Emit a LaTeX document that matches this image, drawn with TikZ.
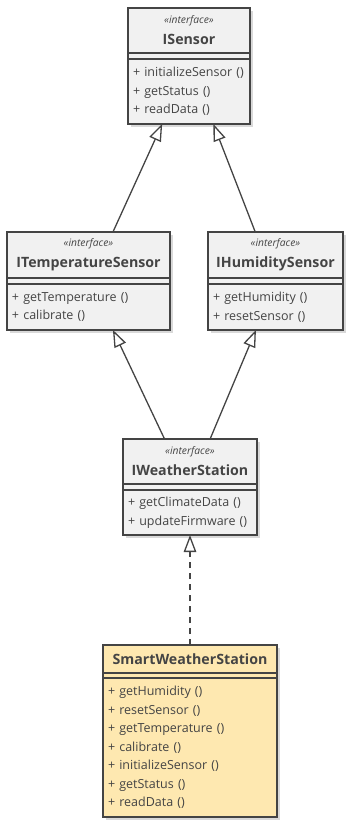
\documentclass[tikz,border=0pt]{standalone}
\usepackage{fontspec}
\setmainfont{Open Sans}
\usetikzlibrary{arrows.meta, positioning, fit, calc, shadows, backgrounds}
\definecolor{umlline}{RGB}{68,68,68}
\definecolor{umlfill}{RGB}{241,241,241}
\definecolor{implcol}{RGB}{254,232,176}
\definecolor{umltext}{RGB}{68,68,68}
\newcommand{\stereo}{{\fontsize{10.3}{12}\selectfont\mdseries\itshape «interface»}}

\begin{document}
\begin{tikzpicture}[
  x=1pt, y=-1pt,
  hdr/.style={draw=umlline, line width=1.4pt, fill=umlfill, text=umltext,
              anchor=north west, align=center, inner sep=0pt, outer sep=0pt,
              font=\fontsize{14.2}{21}\selectfont\bfseries},
  ops/.style={draw=umlline, line width=1.4pt, fill=umlfill, text=umltext,
              align=left, inner xsep=5pt, inner ysep=0pt, outer sep=0pt,
              font=\fontsize{12.5}{18.5}\selectfont},
  frame/.style={draw=umlline, line width=1.4pt, fill=umlfill, inner sep=0pt,
                outer sep=0pt, drop shadow={shadow xshift=3pt, shadow yshift=-3pt,
                fill=black, opacity=0.15}},
  extends/.style={-{Triangle[open, length=17pt, width=12.5pt, fill=white]},
                  line width=1.3pt, draw=umlline},
  implements/.style={extends, dash pattern=on 6pt off 5pt}
]
  \useasboundingbox (0,0) rectangle (355,829);

  % ISensor
  \node[hdr, minimum width=122pt, minimum height=45pt] (isensorH) at (128,8)
    {\stereo\\ISensor};
  \node[ops, below=6pt of isensorH.south west, anchor=north west,
        text width=112pt, minimum height=65pt] (isensorB)
    {+ initializeSensor ()\\+ getStatus ()\\+ readData ()};

  % ITemperatureSensor
  \node[hdr, minimum width=163pt, minimum height=46pt] (itempH) at (7,232)
    {\stereo\\ITemperatureSensor};
  \node[ops, below=6pt of itempH.south west, anchor=north west,
        text width=153pt, minimum height=46pt] (itempB)
    {+ getTemperature ()\\+ calibrate ()};

  % IHumiditySensor
  \node[hdr, minimum width=135pt, minimum height=46pt] (ihumH) at (208,232)
    {\stereo\\IHumiditySensor};
  \node[ops, below=6pt of ihumH.south west, anchor=north west,
        text width=125pt, minimum height=46pt] (ihumB)
    {+ getHumidity ()\\+ resetSensor ()};

  % IWeatherStation
  \node[hdr, minimum width=134pt, minimum height=45pt] (iwsH) at (123,439)
    {\stereo\\IWeatherStation};
  \node[ops, below=6pt of iwsH.south west, anchor=north west,
        text width=124pt, minimum height=45pt] (iwsB)
    {+ getClimateData ()\\+ updateFirmware ()};

  % SmartWeatherStation
  \node[hdr, fill=implcol, minimum width=174pt, minimum height=28pt] (smartH) at (103,645)
    {SmartWeatherStation};
  \node[ops, fill=implcol, below=5pt of smartH.south west, anchor=north west,
        text width=164pt, minimum height=139pt] (smartB)
    {+ getHumidity ()\\+ resetSensor ()\\+ getTemperature ()\\+ calibrate ()\\
     + initializeSensor ()\\+ getStatus ()\\+ readData ()};

  \begin{scope}[on background layer]
    \node[frame, fit=(isensorH)(isensorB)] (isensor) {};
    \node[frame, fit=(itempH)(itempB)] (itemp) {};
    \node[frame, fit=(ihumH)(ihumB)] (ihum) {};
    \node[frame, fit=(iwsH)(iwsB)] (iws) {};
    \node[frame, fill=implcol, fit=(smartH)(smartB)] (smart) {};
  \end{scope}

  \draw[extends] ($(itemp.north west)!0.65!(itemp.north east)$)
    -- ($(isensor.south west)!0.28!(isensor.south east)$);
  \draw[extends] ($(ihum.north west)!0.35!(ihum.north east)$)
    -- ($(isensor.south west)!0.70!(isensor.south east)$);
  \draw[extends] ($(iws.north west)!0.31!(iws.north east)$)
    -- ($(itemp.south west)!0.65!(itemp.south east)$);
  \draw[extends] ($(iws.north west)!0.65!(iws.north east)$)
    -- ($(ihum.south west)!0.355!(ihum.south east)$);
  \draw[implements] (smart.north) -- (iws.south);
\end{tikzpicture}
\end{document}
